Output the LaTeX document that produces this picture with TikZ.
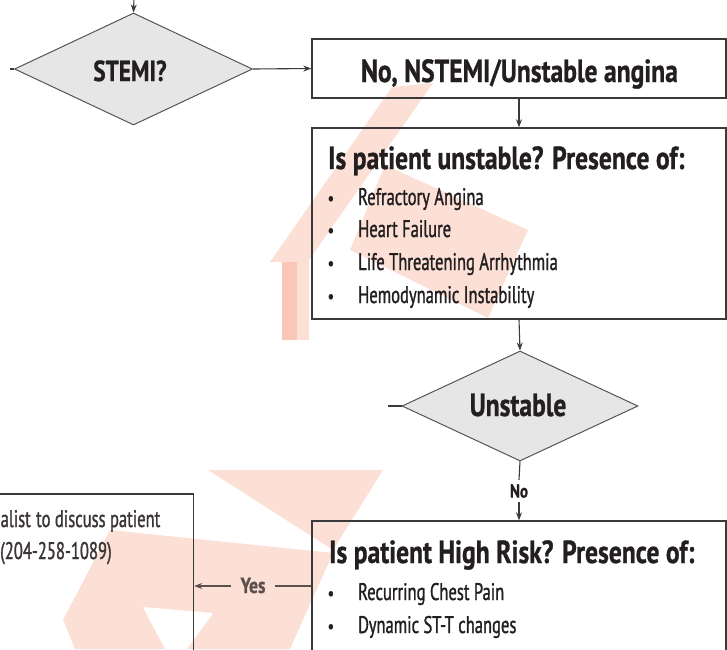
\documentclass[tikz,border=0pt]{standalone}
\usepackage{fontspec}
\setmainfont{PT Sans}[FakeStretch=0.80]
\newfontfamily\titlef{PT Sans}[FakeStretch=0.80,BoldFeatures={FakeBold=0.8}]
\newfontfamily\itemf{PT Sans}[FakeStretch=0.69,FakeBold=1.2]
\usetikzlibrary{arrows.meta,shapes.geometric}
\definecolor{ink}{HTML}{231F20}
\definecolor{linec}{HTML}{3A3A3A}
\definecolor{dfill}{HTML}{E6E6E6}
\definecolor{dline}{HTML}{555555}
\definecolor{wm}{RGB}{252,224,214}
\definecolor{wmtwo}{RGB}{250,198,183}
\definecolor{yesc}{HTML}{5A504E}
\definecolor{lbc}{HTML}{3B3535}
\begin{document}
\begin{tikzpicture}[x=1pt,y=-1pt,
  box/.style={draw=linec,line width=1.4pt,minimum width=414pt,inner sep=0pt},
  dia/.style={diamond,draw=dline,fill=dfill,line width=1pt,inner sep=0pt},
  conn/.style={draw=linec,line width=1.1pt},
  arr/.style={conn,-{Stealth[length=8pt,width=6pt]}},
  yesline/.style={draw=yesc,line width=1.1pt},
  yesarr/.style={yesline,-{Stealth[length=8pt,width=6pt]}},
  big/.style={font=\titlef\fontsize{32}{36}\selectfont\bfseries,text=ink,inner sep=0pt},
  item/.style={font=\itemf\fontsize{24}{28}\selectfont,text=ink,inner sep=0pt,anchor=base west},
  bul/.style={font=\fontsize{20}{22}\selectfont,text=ink,inner sep=0pt,anchor=base},
]
\useasboundingbox (0,0) rectangle (727,649);
\clip (0,0) rectangle (727,649);
% watermark
\fill[wm] (392,87) -- (433,83) -- (309,260) -- (309,340) -- (282,340) -- (282,262) -- (270,262) -- cycle;
\fill[wm] (385,165) -- (528,230) -- (488,318) -- (350,250) -- cycle;
\fill[wmtwo] (282,262) -- (297,262) -- (297,340) -- (282,340) -- cycle;
\fill[wm] (208,470) -- (383,470) -- (333,550) -- cycle;
\fill[wm] (110,530) -- (333,553) -- (290,649) -- (75,649) -- (63,620) -- cycle;
\fill[white] (143,607) -- (213,613) -- (187,649) -- (165,649) -- cycle;

% diamonds
\node[dia,minimum width=238pt,minimum height=112pt] (stemi) at (133.5,69) {};
\node[big,font=\titlef\fontsize{29}{32}\selectfont\bfseries,anchor=base] (stemit) at (130,81) {STEMI?};
\node[dia,minimum width=236pt,minimum height=110pt] (unst) at (520,406) {};
\node[big,anchor=base] (unstt) at (518,416) {Unstable};

% boxes
\node[box,minimum height=59pt] (b1) at (519,68.5) {};
\node[big,anchor=base] (b1t) at (519.5,82) {No, NSTEMI/Unstable angina};

\node[box,minimum height=191pt] (b2) at (519,223.5) {};
\node[big,anchor=base west] (b2t) at (328,169) {Is patient unstable? Presence of:};
\node[bul] (b2u1) at (331,205) {•};
\node[item] (b2i1) at (358,205) {Refractory Angina};
\node[bul] (b2u2) at (331,237) {•};
\node[item] (b2i2) at (358,237) {Heart Failure};
\node[bul] (b2u3) at (331,270) {•};
\node[item] (b2i3) at (358,270) {Life Threatening Arrhythmia};
\node[bul] (b2u4) at (331,303) {•};
\node[item] (b2i4) at (358,303) {Hemodynamic Instability};

\node[box,minimum height=160pt] (b3) at (519,601) {};
\node[big,anchor=base west] (b3t) at (329,563) {Is patient High Risk? Presence of:};
\node[bul] (b3u1) at (331,600) {•};
\node[item] (b3i1) at (358,600) {Recurring Chest Pain};
\node[bul] (b3u2) at (331,633) {•};
\node[item] (b3i2) at (358,633) {Dynamic ST-T changes};

\node[box,minimum width=214pt,minimum height=190pt] (lb) at (86.5,589) {};
\node[item,text=lbc] (lbt1) at (0.5,527) {alist\ \hspace{1pt}to discuss patient};
\node[item,text=lbc] (lbt2) at (0,559) {(204-258-1089)};

% labels
\node[font=\titlef\fontsize{19}{22}\selectfont\bfseries,text=ink,inner sep=4pt] (no) at (519,491) {No};
\node[font=\titlef\fontsize{22}{26}\selectfont\bfseries,text=yesc,inner xsep=9pt,inner ysep=0pt,anchor=base] (yes) at (253,593) {Yes};

% connectors
\coordinate (top) at (134,-2);
\coordinate (sl) at (10,69);
\coordinate (ul) at (388,406);
\coordinate (yy) at (0,586);
\draw[arr] (top) -- (stemi.north);
\draw[conn] (stemi.west) -- (sl);
\draw[arr] (stemi.east) -- (b1.west);
\draw[arr] (b1.south) -- (b2.north);
\draw[arr] (b2.south) -- (unst.north);
\draw[conn] (unst.west) -- (ul);
\draw[conn] (unst.south) -- (no.north);
\draw[arr] (no.south) -- (b3.north);
\draw[yesline] (b3.west |- yy) -- (yes.east |- yy);
\draw[yesarr] (yes.west |- yy) -- (lb.east |- yy);
\end{tikzpicture}
\end{document}
